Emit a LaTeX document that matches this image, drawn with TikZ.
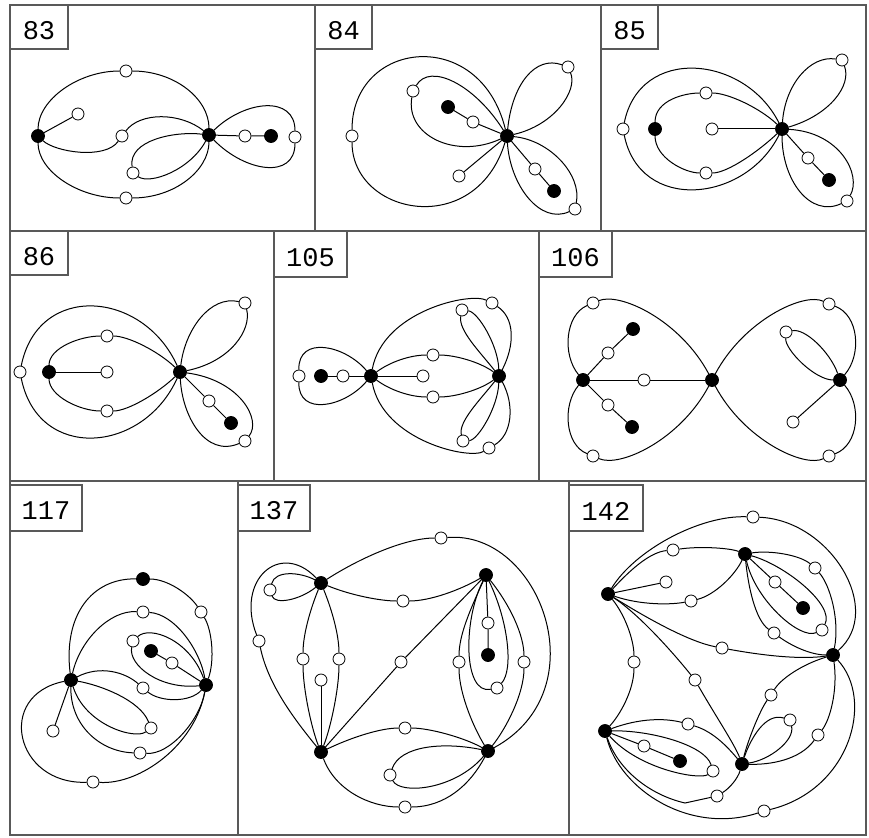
\documentclass[tikz,border=0pt]{standalone}
\usepackage{fontspec}
\newfontfamily\labfont{Liberation Mono}
\begin{document}
\begin{tikzpicture}[x=1pt,y=1pt,
  wn/.style={circle,draw,fill=white,minimum size=12pt,inner sep=0pt,line width=0.8pt},
  bn/.style={circle,draw,fill=black,minimum size=13pt,inner sep=0pt,line width=0.8pt},
  ed/.style={line width=1pt},
  frame/.style={line width=1.1pt,draw=black!65},
  lab/.style={font=\labfont\fontsize{27}{27}\selectfont,inner sep=0pt}]
\useasboundingbox (0,0) rectangle (869,-837);
% ---------- frames ----------
\draw[frame] (10,-5) rectangle (866,-835);
\draw[frame] (10,-231) -- (866,-231);
\draw[frame] (10,-481) -- (866,-481);
\draw[frame] (315,-5) -- (315,-231);
\draw[frame] (601,-5) -- (601,-231);
\draw[frame] (274,-231) -- (274,-481);
\draw[frame] (539,-231) -- (539,-481);
\draw[frame] (238,-481) -- (238,-835);
\draw[frame] (569,-481) -- (569,-835);
% label boxes
\draw[frame] (10,-5) rectangle (68,-49);
\draw[frame] (315,-5) rectangle (372,-49);
\draw[frame] (601,-5) rectangle (658,-49);
\draw[frame] (10,-231) rectangle (68,-275);
\draw[frame] (274,-231) rectangle (347,-277);
\draw[frame] (539,-231) rectangle (612,-277);
\draw[frame] (10,-485) rectangle (82,-531);
\draw[frame] (238,-485) rectangle (310,-531);
\draw[frame] (569,-485) rectangle (643,-531);
\node[lab] (L83) at (39,-31) {83};
\node[lab] (L84) at (343.5,-31) {84};
\node[lab] (L85) at (629.5,-31) {85};
\node[lab] (L86) at (39,-257) {86};
\node[lab] (L105) at (310.5,-258) {105};
\node[lab] (L106) at (575.5,-258) {106};
\node[lab] (L117) at (46,-511) {117};
\node[lab] (L137) at (274,-511) {137};
\node[lab] (L142) at (606,-511) {142};
% ---------- 83 ----------
\node[bn] (a1) at (38,-136) {};
\node[bn] (a2) at (209,-135) {};
\node[wn] (a3) at (126,-71) {};
\node[wn] (a4) at (126,-198) {};
\node[wn] (a5) at (78,-114) {};
\node[wn] (a6) at (122,-136) {};
\node[wn] (a7) at (133,-173) {};
\node[wn] (a8) at (245,-136) {};
\node[bn] (a9) at (271,-136) {};
\node[wn] (a10) at (295,-137) {};
\draw[ed] (a1) .. controls (38,-100) and (78,-71) .. (a3);
\draw[ed] (a3) .. controls (175,-71) and (209,-99) .. (a2);
\draw[ed] (a1) .. controls (38,-171) and (78,-198) .. (a4);
\draw[ed] (a4) .. controls (175,-198) and (209,-170) .. (a2);
\draw[ed] (a1) -- (a5);
\draw[ed] (a1) .. controls (55,-152) and (105,-160) .. (a6);
\draw[ed] (a6) .. controls (140,-112) and (180,-112) .. (a2);
\draw[ed] (a2) .. controls (175,-131) and (128,-140) .. (a7);
\draw[ed] (a7) .. controls (150,-185) and (190,-170) .. (a2);
\draw[ed] (a2) -- (a8) -- (a9);
\draw[ed] (a2) .. controls (245,-100) and (295,-95) .. (a10);
\draw[ed] (a10) .. controls (295,-180) and (245,-172) .. (a2);
% ---------- 84 ----------
\node[bn] (b1) at (507,-136) {};
\node[wn] (b2) at (352,-136) {};
\node[wn] (b3) at (413,-91) {};
\node[bn] (b4) at (448,-107) {};
\node[wn] (b5) at (473,-122) {};
\node[wn] (b6) at (459,-176) {};
\node[wn] (b7) at (568,-67) {};
\node[wn] (b8) at (575,-209) {};
\node[wn] (b9) at (535,-169) {};
\node[bn] (b10) at (554,-191) {};
\draw[ed] (b1) .. controls (480,-25) and (352,-40) .. (b2);
\draw[ed] (b2) .. controls (352,-215) and (475,-240) .. (b1);
\draw[ed] (b1) .. controls (475,-85) and (430,-62) .. (b3);
\draw[ed] (b3) .. controls (405,-135) and (455,-160) .. (b1);
\draw[ed] (b1) -- (b5) -- (b4);
\draw[ed] (b1) -- (b6);
\draw[ed] (b1) .. controls (512,-85) and (535,-55) .. (b7);
\draw[ed] (b7) .. controls (578,-90) and (555,-125) .. (b1);
\draw[ed] (b1) .. controls (510,-185) and (540,-225) .. (b8);
\draw[ed] (b8) .. controls (582,-175) and (550,-140) .. (b1);
\draw[ed] (b1) -- (b9) -- (b10);
% ---------- 85 ----------
\node[bn] (c1) at (782,-129) {};
\node[wn] (c2) at (623,-129) {};
\node[wn] (c3) at (706,-93) {};
\node[bn] (c4) at (655,-129) {};
\node[wn] (c5) at (706,-173) {};
\node[wn] (c6) at (712,-129) {};
\node[wn] (c7) at (842,-60) {};
\node[wn] (c8) at (847,-201) {};
\node[wn] (c9) at (808,-158) {};
\node[bn] (c10) at (829,-180) {};
\draw[ed] (c1) .. controls (745,-55) and (640,-45) .. (c2);
\draw[ed] (c2) .. controls (640,-213) and (745,-203) .. (c1);
\draw[ed] (c1) .. controls (760,-108) and (728,-93) .. (c3);
\draw[ed] (c3) .. controls (685,-93) and (655,-100) .. (c4);
\draw[ed] (c4) .. controls (655,-158) and (685,-173) .. (c5);
\draw[ed] (c5) .. controls (728,-173) and (760,-150) .. (c1);
\draw[ed] (c1) -- (c6);
\draw[ed] (c1) .. controls (785,-85) and (810,-55) .. (c7);
\draw[ed] (c7) .. controls (852,-85) and (830,-115) .. (c1);
\draw[ed] (c1) .. controls (782,-180) and (810,-218) .. (c8);
\draw[ed] (c8) .. controls (862,-175) and (840,-132) .. (c1);
\draw[ed] (c1) -- (c9) -- (c10);
% ---------- 86 ----------
\node[bn] (d1) at (180,-372) {};
\node[wn] (d2) at (20,-372) {};
\node[wn] (d3) at (107,-336) {};
\node[bn] (d4) at (49,-372) {};
\node[wn] (d5) at (107,-411) {};
\node[wn] (d6) at (107,-372) {};
\node[wn] (d7) at (245,-303) {};
\node[wn] (d8) at (245,-441) {};
\node[wn] (d9) at (209,-401) {};
\node[bn] (d10) at (231,-423) {};
\draw[ed] (d1) .. controls (143,-290) and (38,-282) .. (d2);
\draw[ed] (d2) .. controls (38,-462) and (143,-454) .. (d1);
\draw[ed] (d1) .. controls (158,-351) and (128,-336) .. (d3);
\draw[ed] (d3) .. controls (80,-336) and (49,-348) .. (d4);
\draw[ed] (d4) .. controls (49,-396) and (80,-411) .. (d5);
\draw[ed] (d5) .. controls (128,-411) and (158,-393) .. (d1);
\draw[ed] (d4) -- (d6);
\draw[ed] (d1) .. controls (185,-330) and (210,-295) .. (d7);
\draw[ed] (d7) .. controls (252,-330) and (230,-362) .. (d1);
\draw[ed] (d1) .. controls (182,-415) and (205,-458) .. (d8);
\draw[ed] (d8) .. controls (262,-420) and (240,-380) .. (d1);
\draw[ed] (d1) -- (d9) -- (d10);
% ---------- 105 ----------
\node[bn] (e1) at (371,-376) {};
\node[bn] (e2) at (499,-376) {};
\node[bn] (e3) at (321,-376) {};
\node[wn] (e4) at (343,-376) {};
\node[wn] (e5) at (299,-376) {};
\node[wn] (e6) at (423,-376) {};
\node[wn] (e7) at (433,-355) {};
\node[wn] (e8) at (433,-397) {};
\node[wn] (e9) at (492,-303) {};
\node[wn] (e10) at (489,-448) {};
\node[wn] (e11) at (462,-310) {};
\node[wn] (e12) at (463,-441) {};
\draw[ed] (e1) -- (e4) -- (e3);
\draw[ed] (e1) -- (e6);
\draw[ed] (e1) .. controls (345,-345) and (298,-335) .. (e5);
\draw[ed] (e5) .. controls (298,-417) and (345,-407) .. (e1);
\draw[ed] (e1) .. controls (390,-362) and (410,-355) .. (e7);
\draw[ed] (e7) .. controls (455,-355) and (480,-362) .. (e2);
\draw[ed] (e1) .. controls (390,-390) and (410,-397) .. (e8);
\draw[ed] (e8) .. controls (455,-397) and (480,-390) .. (e2);
\draw[ed] (e1) .. controls (383,-311) and (470,-292) .. (e9);
\draw[ed] (e9) .. controls (515,-318) and (515,-345) .. (e2);
\draw[ed] (e1) .. controls (383,-441) and (470,-460) .. (e10);
\draw[ed] (e10) .. controls (512,-435) and (515,-405) .. (e2);
\draw[ed] (e2) .. controls (480,-352) and (458,-330) .. (e11);
\draw[ed] (e11) .. controls (478,-312) and (498,-345) .. (e2);
\draw[ed] (e2) .. controls (480,-400) and (458,-422) .. (e12);
\draw[ed] (e12) .. controls (478,-440) and (498,-407) .. (e2);
% ---------- 106 ----------
\node[bn] (f1) at (583,-380) {};
\node[bn] (f2) at (712,-380) {};
\node[bn] (f3) at (840,-380) {};
\node[wn] (f4) at (644,-380) {};
\node[wn] (f5) at (608,-353) {};
\node[bn] (f6) at (633,-329) {};
\node[wn] (f7) at (608,-405) {};
\node[bn] (f8) at (632,-427) {};
\node[wn] (f9) at (593,-303) {};
\node[wn] (f10) at (593,-456) {};
\node[wn] (f11) at (829,-304) {};
\node[wn] (f12) at (829,-456) {};
\node[wn] (f13) at (786,-332) {};
\node[wn] (f14) at (793,-422) {};
\draw[ed] (f1) -- (f4) -- (f2);
\draw[ed] (f1) -- (f5) -- (f6);
\draw[ed] (f1) -- (f7) -- (f8);
\draw[ed] (f1) .. controls (562,-355) and (565,-315) .. (f9);
\draw[ed] (f9) .. controls (620,-292) and (680,-320) .. (f2);
\draw[ed] (f1) .. controls (562,-405) and (565,-445) .. (f10);
\draw[ed] (f10) .. controls (620,-468) and (680,-440) .. (f2);
\draw[ed] (f2) .. controls (744,-320) and (804,-292) .. (f11);
\draw[ed] (f11) .. controls (859,-315) and (862,-355) .. (f3);
\draw[ed] (f2) .. controls (744,-440) and (804,-468) .. (f12);
\draw[ed] (f12) .. controls (859,-445) and (862,-405) .. (f3);
\draw[ed] (f3) .. controls (815,-380) and (785,-350) .. (f13);
\draw[ed] (f13) .. controls (805,-328) and (830,-352) .. (f3);
\draw[ed] (f3) -- (f14);
% ---------- 117 ----------
\node[bn] (g1) at (71,-680) {};
\node[bn] (g2) at (206,-685) {};
\node[bn] (g3) at (143,-579) {};
\node[wn] (g4) at (201,-612) {};
\node[wn] (g5) at (143,-612) {};
\node[wn] (g6) at (133,-641) {};
\node[bn] (g7) at (151,-651) {};
\node[wn] (g8) at (172,-663) {};
\node[wn] (g9) at (143,-688) {};
\node[wn] (g10) at (151,-728) {};
\node[wn] (g11) at (53,-731) {};
\node[wn] (g12) at (140,-753) {};
\node[wn] (g13) at (93,-782) {};
\draw[ed] (g1) .. controls (63,-615) and (92,-578) .. (g3);
\draw[ed] (g3) .. controls (168,-579) and (190,-595) .. (g4);
\draw[ed] (g4) .. controls (212,-630) and (215,-660) .. (g2);
\draw[ed] (g1) .. controls (80,-640) and (110,-610) .. (g5);
\draw[ed] (g5) .. controls (175,-614) and (200,-650) .. (g2);
\draw[ed] (g2) .. controls (190,-640) and (150,-625) .. (g6);
\draw[ed] (g6) .. controls (128,-665) and (160,-690) .. (g2);
\draw[ed] (g2) -- (g8) -- (g7);
\draw[ed] (g1) .. controls (100,-665) and (125,-672) .. (g9);
\draw[ed] (g9) .. controls (160,-702) and (190,-703) .. (g2);
\draw[ed] (g1) .. controls (100,-685) and (140,-700) .. (g10);
\draw[ed] (g10) .. controls (135,-740) and (85,-725) .. (g1);
\draw[ed] (g1) -- (g11);
\draw[ed] (g1) .. controls (70,-725) and (100,-752) .. (g12);
\draw[ed] (g12) .. controls (170,-755) and (200,-720) .. (g2);
\draw[ed] (g1) .. controls (-5,-695) and (15,-785) .. (g13);
\draw[ed] (g13) .. controls (140,-785) and (195,-745) .. (g2);
% ---------- 137 ----------
\node[bn] (h1) at (321,-583) {};
\node[bn] (h2) at (486,-575) {};
\node[bn] (h3) at (321,-752) {};
\node[bn] (h4) at (488,-751) {};
\node[wn] (h5) at (441,-538) {};
\node[wn] (h6) at (403,-601) {};
\node[wn] (h7) at (401,-662) {};
\node[wn] (h8) at (270,-590) {};
\node[wn] (h9) at (259,-641) {};
\node[wn] (h10) at (303,-659) {};
\node[wn] (h11) at (339,-659) {};
\node[wn] (h12) at (321,-680) {};
\node[wn] (h13) at (405,-728) {};
\node[wn] (h14) at (390,-775) {};
\node[wn] (h15) at (405,-807) {};
\node[wn] (h16) at (459,-662) {};
\node[wn] (h17) at (524,-662) {};
\node[wn] (h18) at (488,-623) {};
\node[bn] (h19) at (488,-655) {};
\node[wn] (h20) at (497,-688) {};
\draw[ed] (h1) .. controls (360,-558) and (405,-538) .. (h5);
\draw[ed] (h5) .. controls (540,-530) and (600,-690) .. (h4);
\draw[ed] (h1) .. controls (350,-595) and (380,-601) .. (h6);
\draw[ed] (h6) .. controls (430,-601) and (460,-590) .. (h2);
\draw[ed] (h3) -- (h7) -- (h2);
\draw[ed] (h1) .. controls (300,-572) and (275,-570) .. (h8);
\draw[ed] (h8) .. controls (275,-605) and (300,-600) .. (h1);
\draw[ed] (h1) .. controls (280,-540) and (235,-580) .. (h9);
\draw[ed] (h9) .. controls (268,-685) and (295,-720) .. (h3);
\draw[ed] (h1) .. controls (310,-610) and (303,-635) .. (h10);
\draw[ed] (h10) .. controls (303,-690) and (312,-730) .. (h3);
\draw[ed] (h1) .. controls (332,-610) and (339,-635) .. (h11);
\draw[ed] (h11) .. controls (339,-690) and (330,-730) .. (h3);
\draw[ed] (h3) -- (h12);
\draw[ed] (h3) .. controls (350,-738) and (380,-728) .. (h13);
\draw[ed] (h13) .. controls (430,-728) and (465,-738) .. (h4);
\draw[ed] (h4) .. controls (445,-742) and (400,-745) .. (h14);
\draw[ed] (h14) .. controls (400,-795) and (455,-790) .. (h4);
\draw[ed] (h3) .. controls (335,-790) and (370,-807) .. (h15);
\draw[ed] (h15) .. controls (445,-807) and (470,-785) .. (h4);
\draw[ed] (h2) .. controls (470,-610) and (459,-635) .. (h16);
\draw[ed] (h16) .. controls (459,-695) and (475,-730) .. (h4);
\draw[ed] (h2) .. controls (510,-605) and (524,-635) .. (h17);
\draw[ed] (h17) .. controls (524,-695) and (505,-730) .. (h4);
\draw[ed] (h2) -- (h18) -- (h19);
\draw[ed] (h2) .. controls (463,-620) and (463,-695) .. (h20);
\draw[ed] (h20) .. controls (514,-670) and (508,-620) .. (h2);
% ---------- 142 ----------
\node[bn] (k1) at (608,-594) {};
\node[bn] (k2) at (745,-554) {};
\node[bn] (k3) at (833,-655) {};
\node[bn] (k4) at (605,-731) {};
\node[bn] (k5) at (742,-764) {};
\node[wn] (k6) at (753,-517) {};
\node[wn] (k7) at (673,-550) {};
\node[wn] (k8) at (666,-582) {};
\node[wn] (k9) at (691,-601) {};
\node[wn] (k10) at (722,-648) {};
\node[wn] (k11) at (634,-662) {};
\node[wn] (k12) at (695,-680) {};
\node[wn] (k13) at (775,-582) {};
\node[bn] (k14) at (803,-608) {};
\node[wn] (k15) at (815,-568) {};
\node[wn] (k16) at (822,-630) {};
\node[wn] (k17) at (774,-633) {};
\node[wn] (k18) at (771,-695) {};
\node[wn] (k19) at (818,-735) {};
\node[wn] (k20) at (764,-811) {};
\node[wn] (k21) at (790,-720) {};
\node[wn] (k22) at (688,-724) {};
\node[wn] (k23) at (644,-746) {};
\node[bn] (k24) at (680,-761) {};
\node[wn] (k25) at (713,-771) {};
\node[wn] (k26) at (717,-796) {};
\coordinate (kk) at (685,-803);
\draw[ed] (k1) .. controls (635,-550) and (700,-515) .. (k6);
\draw[ed] (k6) .. controls (830,-520) and (885,-610) .. (k3);
\draw[ed] (k1) .. controls (630,-570) and (650,-552) .. (k7);
\draw[ed] (k7) .. controls (700,-546) and (730,-548) .. (k2);
\draw[ed] (k1) -- (k8);
\draw[ed] (k1) .. controls (640,-605) and (670,-605) .. (k9);
\draw[ed] (k9) .. controls (715,-595) and (735,-575) .. (k2);
\draw[ed] (k1) .. controls (650,-620) and (690,-642) .. (k10);
\draw[ed] (k10) .. controls (760,-655) and (800,-660) .. (k3);
\draw[ed] (k1) .. controls (625,-615) and (634,-640) .. (k11);
\draw[ed] (k11) .. controls (634,-690) and (620,-715) .. (k4);
\draw[ed] (k1) .. controls (640,-615) and (675,-655) .. (k12);
\draw[ed] (k12) .. controls (715,-715) and (735,-745) .. (k5);
\draw[ed] (k2) -- (k13) -- (k14);
\draw[ed] (k2) .. controls (770,-550) and (800,-555) .. (k15);
\draw[ed] (k15) .. controls (830,-585) and (840,-620) .. (k3);
\draw[ed] (k2) .. controls (785,-565) and (835,-605) .. (k16);
\draw[ed] (k16) .. controls (800,-640) and (755,-600) .. (k2);
\draw[ed] (k2) .. controls (748,-585) and (755,-620) .. (k17);
\draw[ed] (k17) .. controls (790,-645) and (810,-655) .. (k3);
\draw[ed] (k3) .. controls (800,-665) and (780,-680) .. (k18);
\draw[ed] (k18) .. controls (760,-710) and (748,-740) .. (k5);
\draw[ed] (k3) .. controls (838,-690) and (830,-720) .. (k19);
\draw[ed] (k19) .. controls (800,-760) and (770,-765) .. (k5);
\draw[ed] (k3) .. controls (875,-700) and (850,-790) .. (k20);
\draw[ed] (k20) .. controls (690,-835) and (620,-790) .. (k4);
\draw[ed] (k5) .. controls (750,-740) and (765,-712) .. (k21);
\draw[ed] (k21) .. controls (795,-740) and (770,-760) .. (k5);
\draw[ed] (k4) .. controls (640,-718) and (665,-718) .. (k22);
\draw[ed] (k22) .. controls (715,-732) and (730,-750) .. (k5);
\draw[ed] (k4) -- (k23) -- (k24);
\draw[ed] (k4) .. controls (650,-730) and (705,-745) .. (k25);
\draw[ed] (k25) .. controls (700,-780) and (640,-770) .. (k4);
\draw[ed] (k4) .. controls (618,-770) and (650,-795) .. (kk) -- (k26);
\draw[ed] (k26) .. controls (730,-788) and (738,-778) .. (k5);
\end{tikzpicture}
\end{document}
